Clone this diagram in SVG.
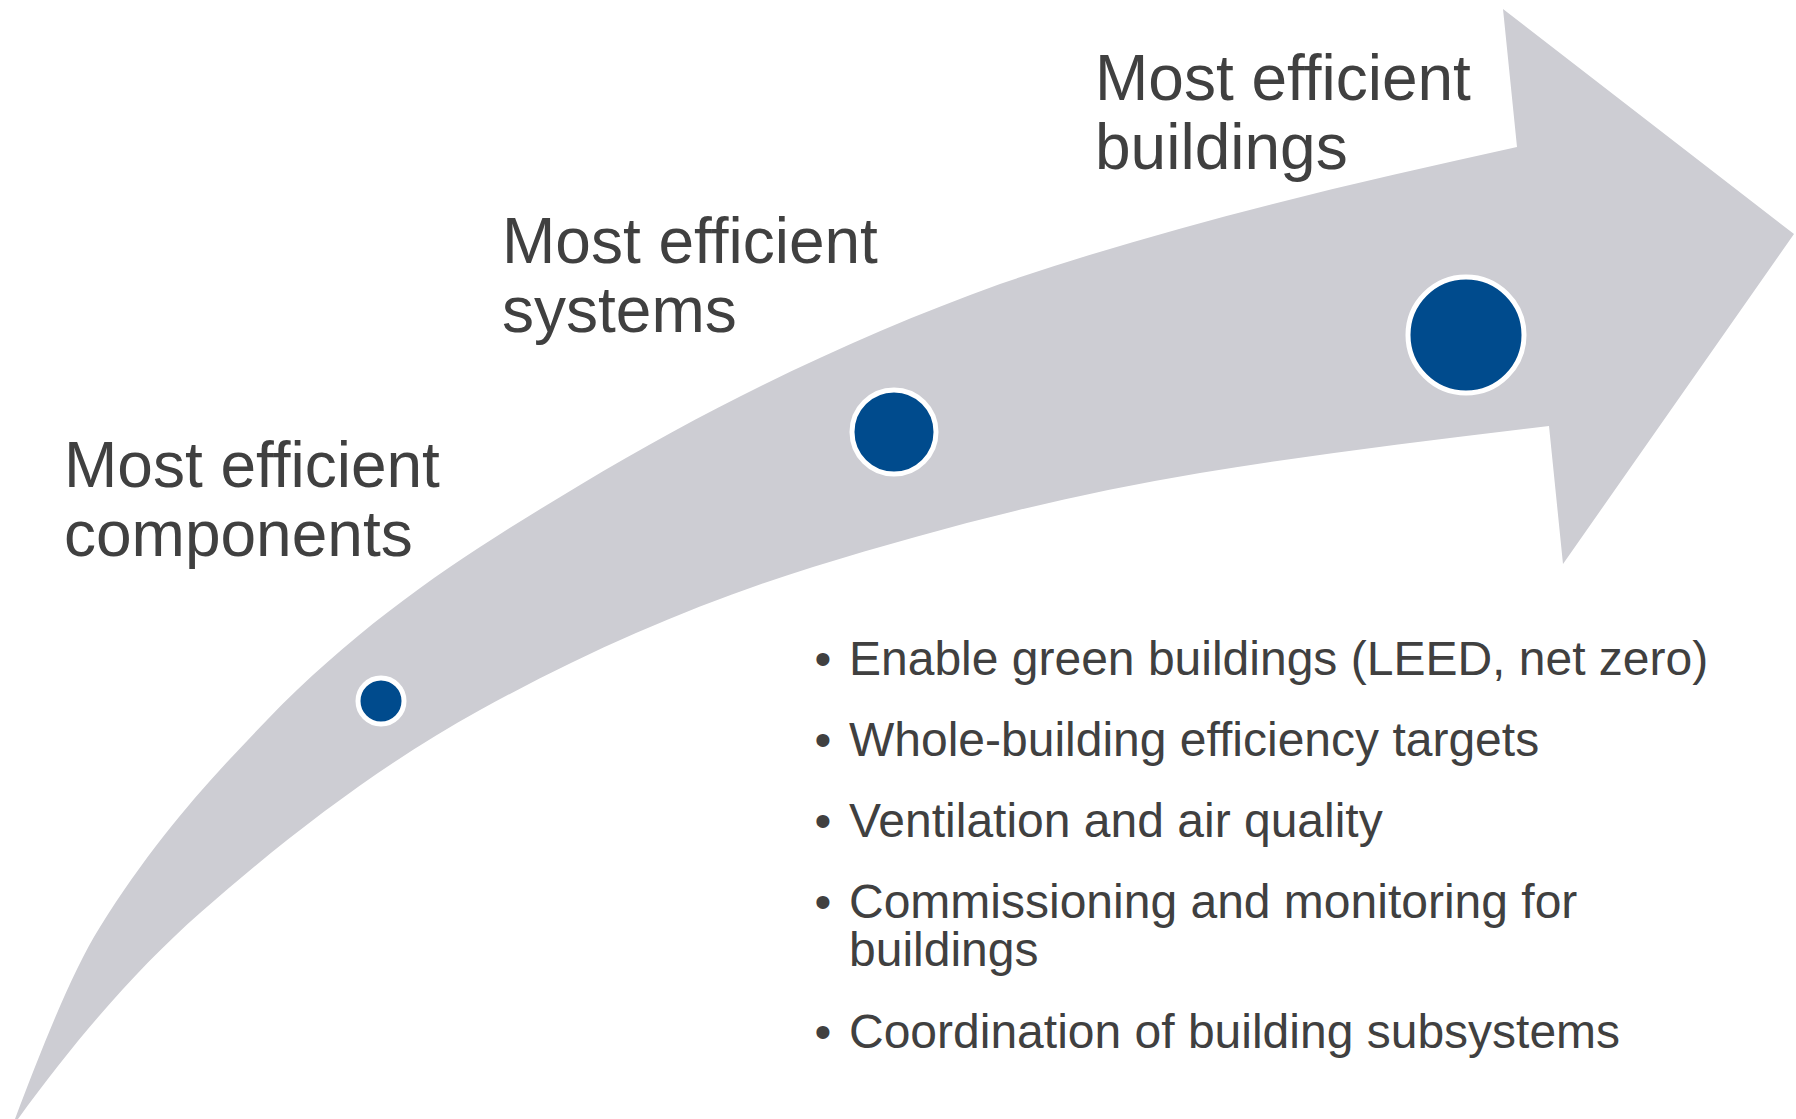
<svg xmlns="http://www.w3.org/2000/svg" width="1796" height="1119" viewBox="0 0 1796 1119">
  <style>
    .band { fill: #CDCDD3; }
    .dot { fill: #004B8D; stroke: #FFFFFF; stroke-width: 5; }
    .head { font-family: "Liberation Sans", Arial, sans-serif; font-size: 64px; fill: #404040; }
    .item { font-family: "Liberation Sans", Arial, sans-serif; font-size: 48px; fill: #404040; }
    .bullet { font-family: "Liberation Sans", Arial, sans-serif; font-size: 48px; fill: #404040; text-anchor: middle; }
  </style>
  <rect width="1796" height="1119" fill="#FFFFFF"/>

  <!-- curved progression arrow: upper edge, head, lower edge back to the tail -->
  <g id="connectors">
    <path id="arrow" class="band" d="M15,1119
      C43.3,1044.4 71.7,972.3 100,927
      C155.7,837.9 211.3,777.4 267,720
      C371.3,612.6 475.7,547.6 580,485
      C720,401 860,334.4 1000,284
      C1172.3,225 1344.7,184.9 1517,147
      L1503,9 L1794,234 L1563,564 L1549,426
      C1432.7,440 1316.3,453.8 1200,473
      C1071,494.3 942,527 813,567
      C702,601.4 591,649 480,710
      C386.7,761.3 293.3,830.9 200,913
      C138.3,967.3 76.7,1037.8 18,1119 Z"/>
  </g>

  <!-- stage 1 -->
  <g id="stage-components">
    <circle class="dot" cx="381" cy="701" r="23"/>
    <text class="head" x="64" y="487">Most efficient</text>
    <text class="head" x="64" y="556">components</text>
  </g>

  <!-- stage 2 -->
  <g id="stage-systems">
    <circle class="dot" cx="894" cy="432" r="42"/>
    <text class="head" x="502" y="263">Most efficient</text>
    <text class="head" x="502" y="332">systems</text>
  </g>

  <!-- stage 3 -->
  <g id="stage-buildings">
    <circle class="dot" cx="1466" cy="335" r="58"/>
    <text class="head" x="1095" y="100">Most efficient</text>
    <text class="head" x="1095" y="169">buildings</text>
  </g>

  <!-- building-level focus areas -->
  <g id="focus-list">
    <text class="bullet" x="823" y="675">•</text>
    <text class="item" x="849" y="675">Enable green buildings (LEED, net zero)</text>
    <text class="bullet" x="823" y="756">•</text>
    <text class="item" x="849" y="756">Whole-building efficiency targets</text>
    <text class="bullet" x="823" y="837">•</text>
    <text class="item" x="849" y="837">Ventilation and air quality</text>
    <text class="bullet" x="823" y="918">•</text>
    <text class="item" x="849" y="918">Commissioning and monitoring for</text>
    <text class="item" x="849" y="966">buildings</text>
    <text class="bullet" x="823" y="1048">•</text>
    <text class="item" x="849" y="1048">Coordination of building subsystems</text>
  </g>
</svg>
